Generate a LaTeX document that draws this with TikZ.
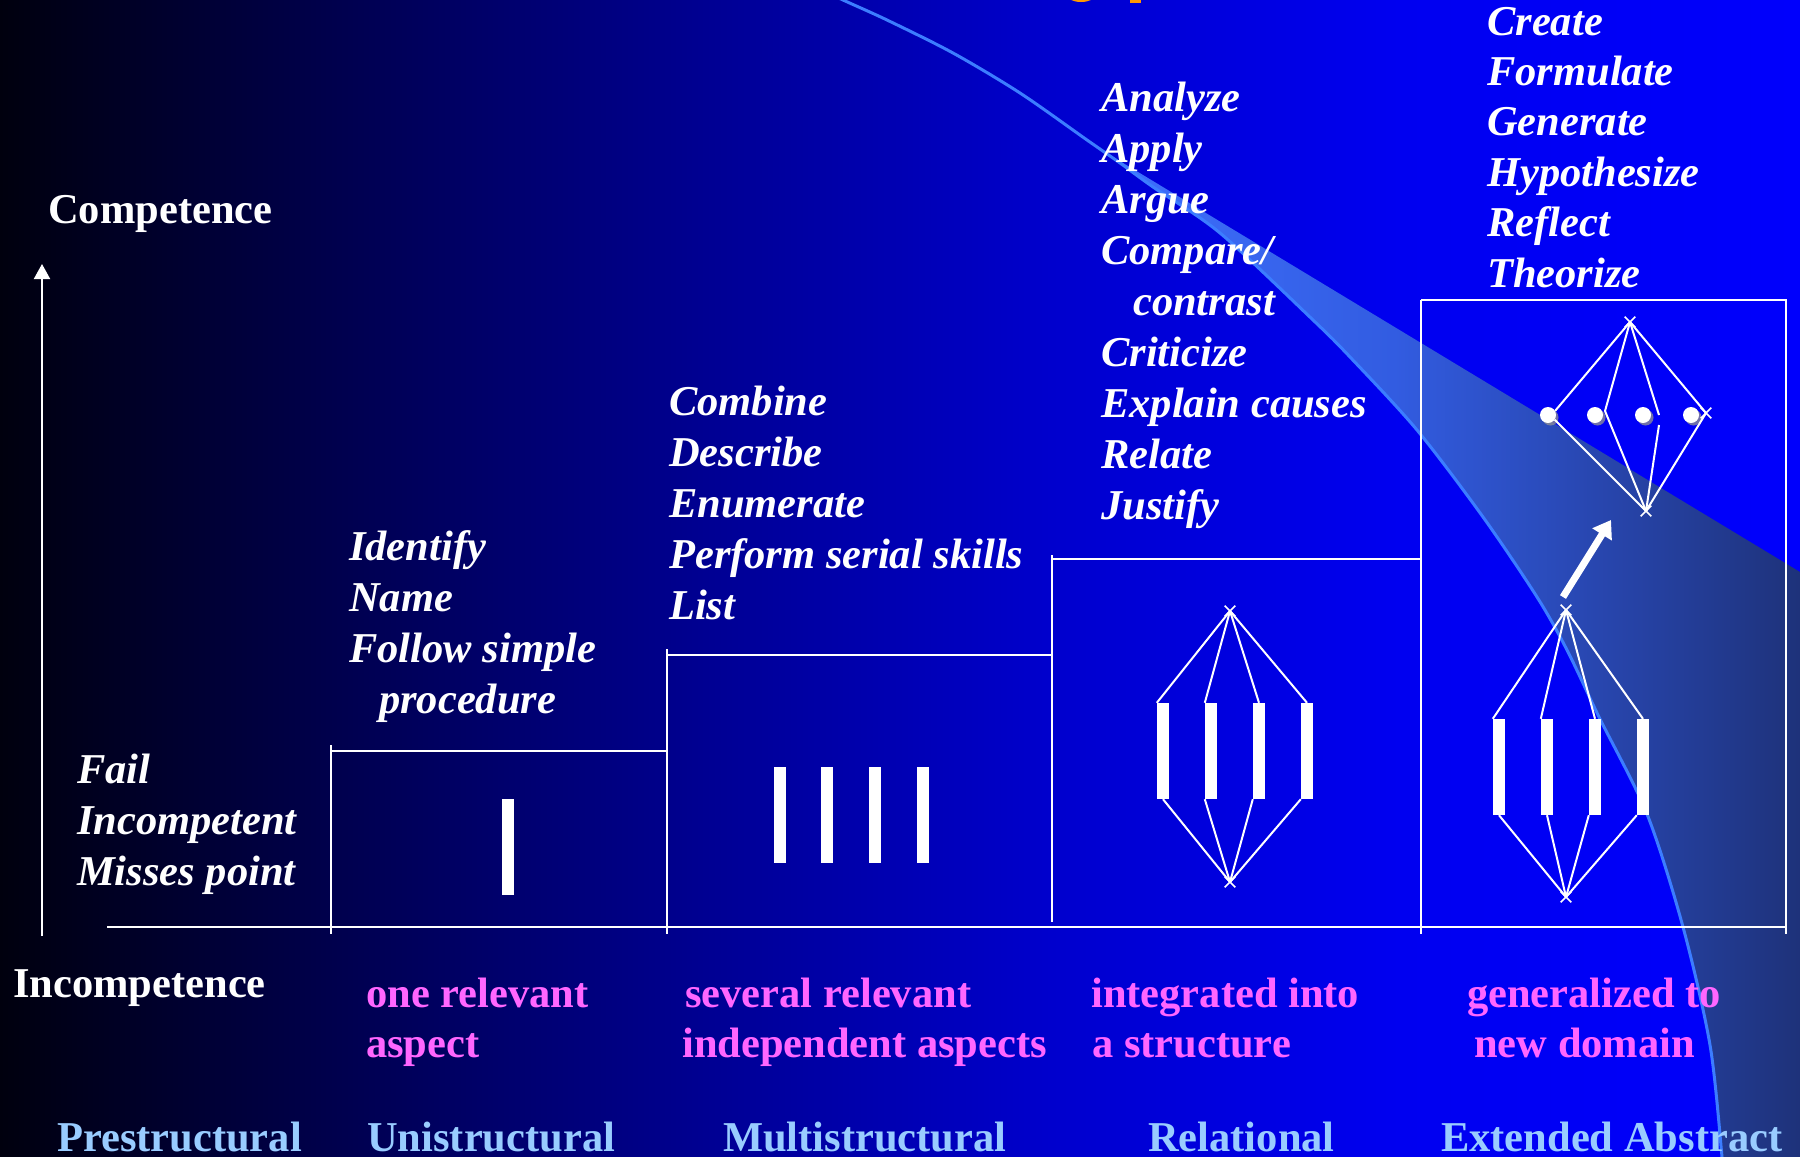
\documentclass[tikz,border=0pt]{standalone}
\usepackage{fontspec}
\setmainfont{Liberation Serif}
\usetikzlibrary{arrows.meta,shapes.misc}
\definecolor{bg0}{RGB}{0,0,14}
\definecolor{bg1}{RGB}{0,0,80}
\definecolor{bg2}{RGB}{0,0,145}
\definecolor{bg3}{RGB}{0,0,205}
\definecolor{bg4}{RGB}{0,0,240}
\definecolor{bg5}{RGB}{0,0,252}
\definecolor{wd0}{RGB}{62,112,255}
\definecolor{wd1}{RGB}{50,92,225}
\definecolor{wd2}{RGB}{40,70,175}
\definecolor{wd3}{RGB}{30,50,122}
\definecolor{pinklab}{RGB}{255,102,255}
\definecolor{levlab}{RGB}{153,204,255}
\definecolor{curvec}{RGB}{60,125,255}
\definecolor{titleor}{RGB}{255,153,0}
\definecolor{shadowc}{RGB}{140,140,150}
\pgfdeclarehorizontalshading{bgshade}{100bp}{color(0bp)=(bg0); color(25bp)=(bg0); color(34.72bp)=(bg1); color(44.44bp)=(bg2); color(54.17bp)=(bg3); color(63.89bp)=(bg4); color(75bp)=(bg5); color(100bp)=(bg5)}
\pgfdeclarehorizontalshading{wedgeshade}{100bp}{color(0bp)=(wd0); color(25bp)=(wd0); color(46bp)=(wd1); color(60.5bp)=(wd2); color(75bp)=(wd3); color(100bp)=(wd3)}
\tikzset{
  verb/.style={anchor=base west, inner sep=0pt, text=white, font=\fontsize{42.5}{51}\selectfont\bfseries\itshape},
  head/.style={anchor=base west, inner sep=0pt, text=white, font=\fontsize{42.5}{51}\selectfont\bfseries},
  pinkl/.style={head, text=pinklab},
  levl/.style={head, text=levlab},
  wl/.style={draw=white, line width=2pt},
  bar/.style={fill=white, inner sep=0pt, minimum width=12pt, minimum height=96pt},
  apex/.style={cross out, draw=white, line width=1.6pt, minimum size=9pt, inner sep=0pt},
  link/.style={draw=white, line width=2pt},
  dot/.style={circle, fill=white, inner sep=0pt, minimum size=16pt},
  curveline/.style={draw=curvec, line width=3pt},
  bigarrow/.style={draw=white, line width=7pt, -{Triangle[width=22pt,length=17pt]}},
}
\begin{document}
\begin{tikzpicture}[x=1pt, y=-1pt]
\useasboundingbox (0,0) rectangle (1800,1157);
\clip (0,0) rectangle (1800,1157);
% background
\shade[shading=bgshade] (0,0) rectangle (1800,1157);
% title fragment
\fill[titleor] (1081,-5) ellipse (14 and 7);
\fill[titleor] (1130,-10) rectangle (1141,2.5);
% translucent wedge
\shade[shading=wedgeshade] (1100,149) -- (1800,572) -- (1800,1157) -- (1722,1157)
  -- plot[smooth] coordinates {(1722,1157) (1710,1045) (1683,927) (1647,814) (1599,717) (1567,650) (1537,597) (1483,517) (1417,430) (1350,357) (1313,320) (1220,233) (1153,187) (1120,163) (1100,149)} -- cycle;
\draw[curveline] plot[smooth] coordinates {(800,-20) (843,0) (887,20) (953,53) (1020,93) (1087,140) (1120,163) (1153,187) (1220,233) (1313,320) (1350,357) (1417,430) (1483,517) (1537,597) (1567,650) (1599,717) (1647,814) (1683,927) (1710,1045) (1722,1157) (1724,1190)};

% axis
\coordinate (axB) at (42,936);
\coordinate (axT) at (42,264);
\draw[wl, -{Triangle[width=16pt,length=15pt]}] (axB) -- (axT);
\draw[wl] (107,927) -- (1787,927);
% steps
\draw[wl] (331,745) -- (331,934);
\draw[wl] (331,751) -- (667,751);
\draw[wl] (667,649) -- (667,934);
\draw[wl] (667,655) -- (1052,655);
\draw[wl] (1052,555) -- (1052,922);
\draw[wl] (1052,559) -- (1421,559);
\draw[wl] (1421,300) -- (1421,934);
\draw[wl] (1421,300) -- (1786,300) -- (1786,934);

% unistructural
\node[bar] (u1) at (507.5,847) {};
% multistructural
\node[bar] (m1) at (779.5,815) {};
\node[bar] (m2) at (827,815) {};
\node[bar] (m3) at (875,815) {};
\node[bar] (m4) at (923,815) {};
% relational
\node[bar] (r1) at (1163,751) {};
\node[bar] (r2) at (1211,751) {};
\node[bar] (r3) at (1259,751) {};
\node[bar] (r4) at (1307,751) {};
\node[apex] (relT) at (1230,611) {};
\node[apex] (relB) at (1230,882) {};
\draw[link] (relT.center) -- (r1.north west);
\draw[link] (relT.center) -- (r2.north west);
\draw[link] (relT.center) -- (r3.north);
\draw[link] (relT.center) -- (r4.north);
\draw[link] (relB.center) -- (r1.south);
\draw[link] (relB.center) -- (r2.south west);
\draw[link] (relB.center) -- (r3.south west);
\draw[link] (relB.center) -- (r4.south west);
% extended abstract, lower
\node[bar] (e1) at (1499,767) {};
\node[bar] (e2) at (1547,767) {};
\node[bar] (e3) at (1595,767) {};
\node[bar] (e4) at (1643,767) {};
\node[apex] (extT) at (1566,610) {};
\node[apex] (extB) at (1566,897) {};
\draw[link] (extT.center) -- (e1.north west);
\draw[link] (extT.center) -- (e2.north west);
\draw[link] (extT.center) -- (e3.north);
\draw[link] (extT.center) -- (e4.north);
\draw[link] (extB.center) -- (e1.south);
\draw[link] (extB.center) -- (e2.south);
\draw[link] (extB.center) -- (e3.south west);
\draw[link] (extB.center) -- (e4.south west);
% arrow
\coordinate (arS) at (1563,597);
\coordinate (arE) at (1611,520);
\draw[bigarrow] (arS) -- (arE);
% extended abstract, upper
\foreach \cx in {1548,1595,1643,1691} \fill[shadowc, opacity=0.8] (\cx+2.5,417.5) circle (8);
\node[dot] (d1) at (1548,415) {};
\node[dot] (d2) at (1595,415) {};
\node[dot] (d3) at (1643,415) {};
\node[dot] (d4) at (1691,415) {};
\node[apex] (upT) at (1630,322) {};
\node[apex] (upB) at (1646,511) {};
\node[apex] (upR) at (1706,413) {};
\coordinate (j2) at (1605,411);
\coordinate (j3a) at (1659,415);
\coordinate (j3b) at (1659,425);
\draw[link] (upT.center) -- (d1.30);
\draw[link] (upT.center) -- (j2);
\draw[link] (upT.center) -- (j3a);
\draw[link] (upT.center) -- (upR.center);
\draw[link] (upB.center) -- (d1.-35);
\draw[link] (upB.center) -- (j2);
\draw[link] (upB.center) -- (j3b);
\draw[link] (upB.center) -- (upR.center);

% axis labels
\node[head] (comp) at (48,223) {Competence};
\node[head] (incomp) at (13,997) {Incompetence};

% verbs
\foreach \t [count=\i] in {Fail, Incompetent, Misses point}
  \node[verb] (pre\i) at (77,{783+51*(\i-1)}) {\t};
\foreach \dx/\t [count=\i] in {0/Identify, 0/Name, 0/{Follow simple}, 30/procedure}
  \node[verb] (uni\i) at ({349+\dx},{560+51*(\i-1)}) {\t};
\foreach \t [count=\i] in {Combine, Describe, Enumerate, Perform serial skills, List}
  \node[verb] (mul\i) at (669,{415+51*(\i-1)}) {\t};
\foreach \dx/\t [count=\i] in {0/Analyze, 0/Apply, 0/Argue, 0/{Compare/}, 32/contrast, 0/Criticize, 0/{Explain causes}, 0/Relate, 0/Justify}
  \node[verb] (rel\i) at ({1101+\dx},{111+51*(\i-1)}) {\t};
\foreach \t [count=\i] in {Create, Formulate, Generate, Hypothesize, Reflect, Theorize}
  \node[verb] (ext\i) at (1487,{35+50.4*(\i-1)}) {\t};

% pink descriptions
\node[pinkl] (p1a) at (366,1007) {one relevant};
\node[pinkl] (p1b) at (366,1057) {aspect};
\node[pinkl] (p2a) at (685,1007) {several relevant};
\node[pinkl] (p2b) at (682,1057) {independent aspects};
\node[pinkl] (p3a) at (1091,1007) {integrated into};
\node[pinkl] (p3b) at (1092,1057) {a structure};
\node[pinkl] (p4a) at (1467,1007) {generalized to};
\node[pinkl] (p4b) at (1474,1057) {new domain};

% level names
\node[levl] (l0) at (57,1151) {Prestructural};
\node[levl] (l1) at (367,1151) {Unistructural};
\node[levl] (l2) at (723,1151) {Multistructural};
\node[levl] (l3) at (1148,1151) {Relational};
\node[levl] (l4) at (1441,1151) {Extended Abstract};
\end{tikzpicture}
\end{document}
